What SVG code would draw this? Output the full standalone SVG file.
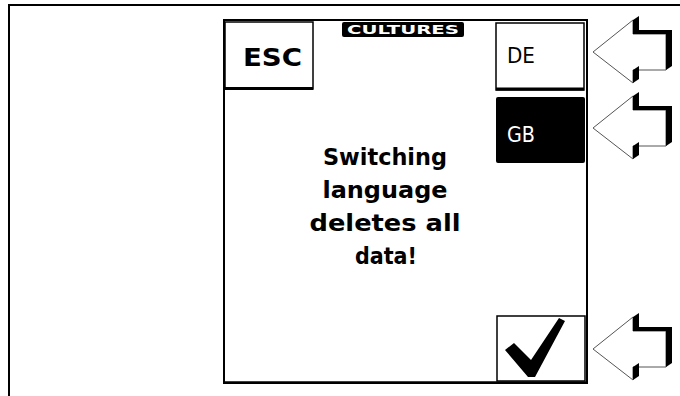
<svg xmlns="http://www.w3.org/2000/svg" width="680" height="396" viewBox="0 0 680 396">
<style>
.frame{fill:none;stroke:#000;stroke-width:2}
.btn{fill:#fff;stroke:#000;stroke-width:1.5}
.btnb{stroke:#000;stroke-width:3}
.lbl{font-family:"DejaVu Sans","Liberation Sans",sans-serif;font-weight:bold}
.key{font-family:"DejaVu Sans Condensed","DejaVu Sans","Liberation Sans",sans-serif;font-weight:normal;font-size:21px}
.msg{font-family:"DejaVu Sans","Liberation Sans",sans-serif;font-weight:bold;font-size:23px;fill:#000;text-anchor:middle}
.face{fill:#fff;stroke:#555;stroke-width:1}
.shade{fill:#000}
</style>
<defs>
<g id="arrow">
<polygon class="face" points="593,52 633,20 633,34 666,34 666,70 633,70 633,83"/>
<polygon class="shade" points="633,20 639,16 639,30 672,30 672,66 666,70 666,34 633,34"/>
<polygon class="shade" points="633,70 639,66 639,79 633,83"/>
</g>
</defs>
<g id="frame">
<path class="frame" d="M9,396 V5 H680"/>
</g>
<g id="screen">
<path d="M224,383 V20 H587 V383 Z" fill="#fff" stroke="#000" stroke-width="2"/>
<line x1="223" y1="382.5" x2="588" y2="382.5" stroke="#000" stroke-width="2.5"/>
</g>
<g id="title">
<rect x="342" y="22" width="122" height="15" rx="2" fill="#000"/>
<text class="lbl" x="403" y="34" font-size="12" fill="#fff" text-anchor="middle" textLength="112" lengthAdjust="spacingAndGlyphs">CULTURES</text>
</g>
<g id="esc">
<rect class="btn" x="225" y="22" width="88" height="67"/>
<line class="btnb" x1="225" y1="88.5" x2="313" y2="88.5"/>
<text class="lbl" x="272.5" y="66" font-size="25" fill="#000" text-anchor="middle" textLength="59" lengthAdjust="spacingAndGlyphs">ESC</text>
</g>
<g id="de">
<rect class="btn" x="496" y="23" width="88" height="67"/>
<line class="btnb" x1="496" y1="89" x2="584" y2="89"/>
<text class="key" x="507" y="63" fill="#000" textLength="28" lengthAdjust="spacingAndGlyphs">DE</text>
</g>
<g id="gb">
<rect x="496" y="97" width="89" height="66" rx="2" fill="#000"/>
<text class="key" x="507" y="142" fill="#fff" textLength="28" lengthAdjust="spacingAndGlyphs">GB</text>
</g>
<g id="ok">
<rect class="btn" x="497" y="316" width="88" height="65"/>
<polygon points="505,350 514,343 531,360 559,318 565,321 535,377 528,377" fill="#000"/>
</g>
<g id="message">
<text class="msg" x="385" y="165" textLength="124" lengthAdjust="spacingAndGlyphs">Switching</text>
<text class="msg" x="385" y="198" textLength="125" lengthAdjust="spacingAndGlyphs">language</text>
<text class="msg" x="385" y="231" textLength="151" lengthAdjust="spacingAndGlyphs">deletes all</text>
<text class="msg" x="386" y="264" textLength="62" lengthAdjust="spacingAndGlyphs">data!</text>
</g>
<g id="connectors">
<use href="#arrow"/>
<use href="#arrow" transform="translate(0,76)"/>
<use href="#arrow" transform="translate(0,297)"/>
</g>
</svg>
